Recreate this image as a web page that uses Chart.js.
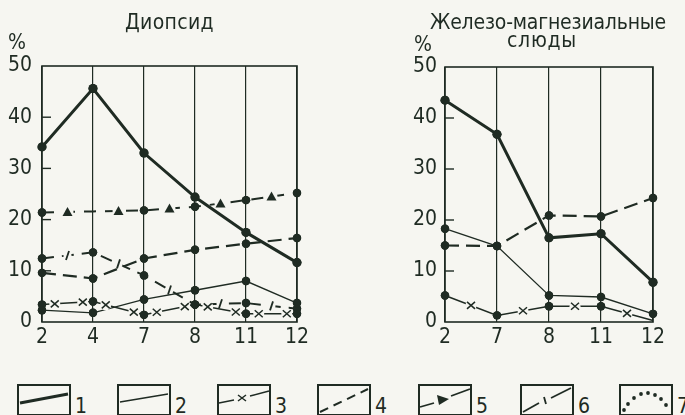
<!DOCTYPE html>
<html><head><meta charset="utf-8">
<script src="https://cdn.jsdelivr.net/npm/chart.js@4"></script>
<style>
html,body{margin:0;padding:0;background:#f6f6f1;}
#wrap{position:relative;width:685px;height:415px;overflow:hidden;background:#f6f6f1;color:#1f2b23;font-family:"DejaVu Sans Condensed",sans-serif;}
canvas{position:absolute;top:0;}
.t{position:absolute;font-family:"DejaVu Sans Condensed","DejaVu Sans",sans-serif;font-size:21px;letter-spacing:1.5px;white-space:nowrap;line-height:1;}
.pct{position:absolute;font-family:"DejaVu Sans Condensed",sans-serif;font-size:21px;line-height:1;}
.lg{position:absolute;top:384px;}
.lg svg{position:absolute;left:0;top:0;}
.lg span{position:absolute;top:12px;font-size:21px;line-height:1;}
</style></head>
<body><div id="wrap">
<canvas id="c1" width="340" height="360" style="left:0"></canvas>
<canvas id="c2" width="345" height="360" style="left:340px"></canvas>
<div class="t" id="t1" style="left:125px;top:12px">Диопсид</div>
<div class="t" id="t2" style="left:430px;top:12px;letter-spacing:0px">Железо-магнезиальные</div>
<div class="t" id="t3" style="left:507px;top:30px;letter-spacing:1.5px">слюды</div>
<div class="pct" style="left:8px;top:32px">%</div>
<div class="pct" style="left:414px;top:34px">%</div>
<div id="legend"></div>
</div>
<script>
// ---- data ----
const dioCats = ['2','4','7','8','11','12'];
const micaCats = ['2','7','8','11','12'];
const dio1 = [34.2, 45.6, 33.0, 24.4, 17.5, 11.6];
const dio2 = [2.3, 1.8, 4.4, 6.2, 8.0, 3.7];
const dio3 = [3.4, 4.0, 1.4, 3.4, 1.6, 1.6];
const dio4 = [9.6, 8.5, 12.4, 14.1, 15.3, 16.4];
const dio5 = [21.4, 21.6, 21.8, 22.5, 23.8, 25.2];
const dio6 = [12.4, 13.6, 9.1, 3.4, 3.7, 2.6];
const mica1 = [43.5, 36.8, 16.5, 17.3, 7.8];
const mica2 = [18.3, 14.9, 5.2, 4.9, 1.6];
const mica3 = [5.2, 1.3, 3.1, 3.1, 0.3];
const mica4 = [15.0, 14.9, 20.9, 20.7, 24.3];
const yTicks = [0, 10, 20, 30, 40, 50];
const legendLabels = ['1','2','3','4','5','6','7'];

const INK = '#1f2b23';
const BG = '#f6f6f1';

// fit titles to measured widths in the reference
function fitWidth(id, target) {
  const el = document.getElementById(id);
  const w = el.getBoundingClientRect().width;
  const n = el.textContent.length;
  const cur = parseFloat(getComputedStyle(el).letterSpacing) || 0;
  el.style.letterSpacing = (cur + (target - w) / n) + 'px';
}
fitWidth('t1', 89);
fitWidth('t2', 236);
fitWidth('t3', 70);

function drawMark(ctx, type, x, y) {
  ctx.save();
  ctx.strokeStyle = INK; ctx.fillStyle = BG;
  if (type === 'x') {
    ctx.beginPath(); ctx.arc(x, y, 5.5, 0, Math.PI*2); ctx.fill();
    ctx.lineWidth = 1.5; ctx.beginPath();
    ctx.moveTo(x-4, y-3.5); ctx.lineTo(x+4, y+3.5);
    ctx.moveTo(x-4, y+3.5); ctx.lineTo(x+4, y-3.5); ctx.stroke();
  } else if (type === 'tri') {
    ctx.beginPath(); ctx.arc(x, y, 6, 0, Math.PI*2); ctx.fill();
    ctx.fillStyle = INK; ctx.beginPath();
    ctx.moveTo(x-5, y+4); ctx.lineTo(x+5, y+4); ctx.lineTo(x, y-5); ctx.closePath(); ctx.fill();
  } else if (type === 'tick') {
    ctx.beginPath(); ctx.arc(x, y, 4, 0, Math.PI*2); ctx.fill();
    ctx.lineWidth = 1.8; ctx.beginPath();
    ctx.moveTo(x-1.5, y+4.5); ctx.lineTo(x+1.5, y-4.5); ctx.stroke();
  }
  ctx.restore();
}

const decor = {
  id: 'decor',
  beforeDatasetsDraw(chart) {
    const ctx = chart.ctx, ca = chart.chartArea, ys = chart.scales.y;
    ctx.save();
    ctx.strokeStyle = INK; ctx.lineWidth = 1.6;
    ctx.strokeRect(ca.left, ca.top, ca.right - ca.left, ca.bottom - ca.top);
    ctx.lineWidth = 1.4;
    yTicks.forEach(v => {
      if (v === 0 || v === 50) return;
      const py = ys.getPixelForValue(v);
      ctx.beginPath(); ctx.moveTo(ca.left, py); ctx.lineTo(ca.left + 9, py); ctx.stroke();
    });
    ctx.restore();
  },
  afterDatasetsDraw(chart) {
    const ctx = chart.ctx;
    chart.data.datasets.forEach((ds, i) => {
      if (!ds.midMarks) return;
      const pts = chart.getDatasetMeta(i).data;
      for (let k = 0; k < pts.length - 1; k++) {
        const a = pts[k], b = pts[k+1];
        ds.midMarks.fracs.forEach(f => drawMark(ctx, ds.midMarks.type, a.x + (b.x-a.x)*f, a.y + (b.y-a.y)*f));
      }
    });
    chart.data.datasets.forEach((ds, i) => {
      const pts = chart.getDatasetMeta(i).data;
      pts.forEach((p, k) => {
        const r = Array.isArray(ds.pointRadius) ? ds.pointRadius[k] : ds.pointRadius;
        if (!r) return;
        ctx.save(); ctx.fillStyle = INK; ctx.beginPath(); ctx.arc(p.x, p.y, r, 0, Math.PI*2); ctx.fill(); ctx.restore();
      });
    });
  }
};

function line(data, extra) {
  return Object.assign({
    data, borderColor: INK, backgroundColor: INK, pointBackgroundColor: INK, pointBorderColor: INK,
    pointBorderWidth: 0, pointRadius: 4, pointHoverRadius: 0, tension: 0, fill: false, clip: false,
    borderWidth: 2
  }, extra || {});
}

function makeChart(id, labels, datasets, yWidth, padRight, padTop, tickPad) {
  const font = {family: '"DejaVu Sans Condensed",sans-serif', size: 21};
  return new Chart(document.getElementById(id), {
    type: 'line',
    data: {labels, datasets},
    options: {
      responsive: false, animation: false, events: [],
      layout: {padding: {left: 0, right: padRight, top: padTop, bottom: 0}},
      plugins: {legend: {display: false}, tooltip: {enabled: false}},
      scales: {
        x: {
          offset: false,
          grid: {display: true, color: INK, lineWidth: 1.2, drawTicks: false},
          border: {display: false},
          ticks: {color: INK, font, padding: 3, maxRotation: 0, autoSkip: false},
          afterFit(s) { s.height = 38; }
        },
        y: {
          min: 0, max: 50,
          grid: {display: false, drawTicks: false},
          border: {display: false},
          ticks: {color: INK, font, padding: tickPad, stepSize: 10},
          afterFit(s) { s.width = yWidth; }
        }
      }
    },
    plugins: [decor]
  });
}

makeChart('c1', dioCats, [
  line(dio5, {borderWidth: 2, borderDash: [12, 9], pointRadius: [4.2,0,4.2,4.2,4.2,4.2], midMarks: {type:'tri', fracs:[0.5]}}),
  line(dio4, {borderWidth: 2.2, borderDash: [14, 7], pointRadius: 4.2}),
  line(dio6, {borderWidth: 2, borderDash: [12, 8], pointRadius: 4.2, midMarks: {type:'tick', fracs:[0.5]}}),
  line(dio3, {borderWidth: 1.5, pointRadius: 4.2, midMarks: {type:'x', fracs:[0.25, 0.8]}}),
  line(dio2, {borderWidth: 1.3, pointRadius: 4.2}),
  line(dio1, {borderWidth: 3, pointRadius: 4.5})
], 42, 43, 66, 10);

makeChart('c2', micaCats, [
  line(mica4, {borderWidth: 2.2, borderDash: [14, 7], pointRadius: 4.2}),
  line(mica3, {borderWidth: 1.5, pointRadius: [4.2,4.2,4.2,4.2,0], midMarks: {type:'x', fracs:[0.5]}}),
  line(mica2, {borderWidth: 1.3, pointRadius: 4.2}),
  line(mica1, {borderWidth: 3, pointRadius: 4.5})
], 105, 32, 67, 8);

// ---- legend ----
const boxX = [17, 117, 217, 317, 418, 520, 619];
const inner = [
  '<line x1="3" y1="19" x2="51" y2="10" stroke-width="3"/>',
  '<line x1="3" y1="18" x2="51" y2="10" stroke-width="1.3"/>',
  '<line x1="2" y1="19" x2="17" y2="16" stroke-width="1.5"/><line x1="33" y1="12" x2="52" y2="7" stroke-width="1.5"/><path d="M21 11 L29 17 M21 17 L29 11" stroke-width="1.5"/>',
  '<line x1="3" y1="28" x2="51" y2="5" stroke-width="2" stroke-dasharray="9 6"/>',
  '<line x1="2" y1="23" x2="16" y2="19" stroke-width="1.8"/><line x1="33" y1="12" x2="52" y2="5" stroke-width="1.8"/><path d="M19 11 L31 15 L21 21 Z" fill="#1f2b23" stroke="none"/>',
  '<line x1="3" y1="28" x2="19" y2="19" stroke-width="1.8"/><line x1="24" y1="13" x2="26" y2="20" stroke-width="1.8"/><line x1="31" y1="14" x2="51" y2="4" stroke-width="1.8"/>',
  (() => { let s=''; const pts=[[5,26],[9,20],[15,14],[22,10],[29,9],[36,11],[42,15],[47,21]]; pts.forEach(p=>{s+=`<circle cx="${p[0]}" cy="${p[1]}" r="1.9" fill="#1f2b23" stroke="none"/>`;}); return s; })()
];
const lg = document.getElementById('legend');
legendLabels.forEach((lab, i) => {
  const d = document.createElement('div');
  d.className = 'lg'; d.style.left = boxX[i] + 'px';
  d.innerHTML = `<svg width="56" height="32" xmlns="http://www.w3.org/2000/svg"><g stroke="#1f2b23" fill="none"><rect x="1" y="1" width="52" height="30" stroke-width="2"/>${inner[i]}</g></svg><span style="left:58px">${lab}</span>`;
  lg.appendChild(d);
});
</script>
</body></html>
